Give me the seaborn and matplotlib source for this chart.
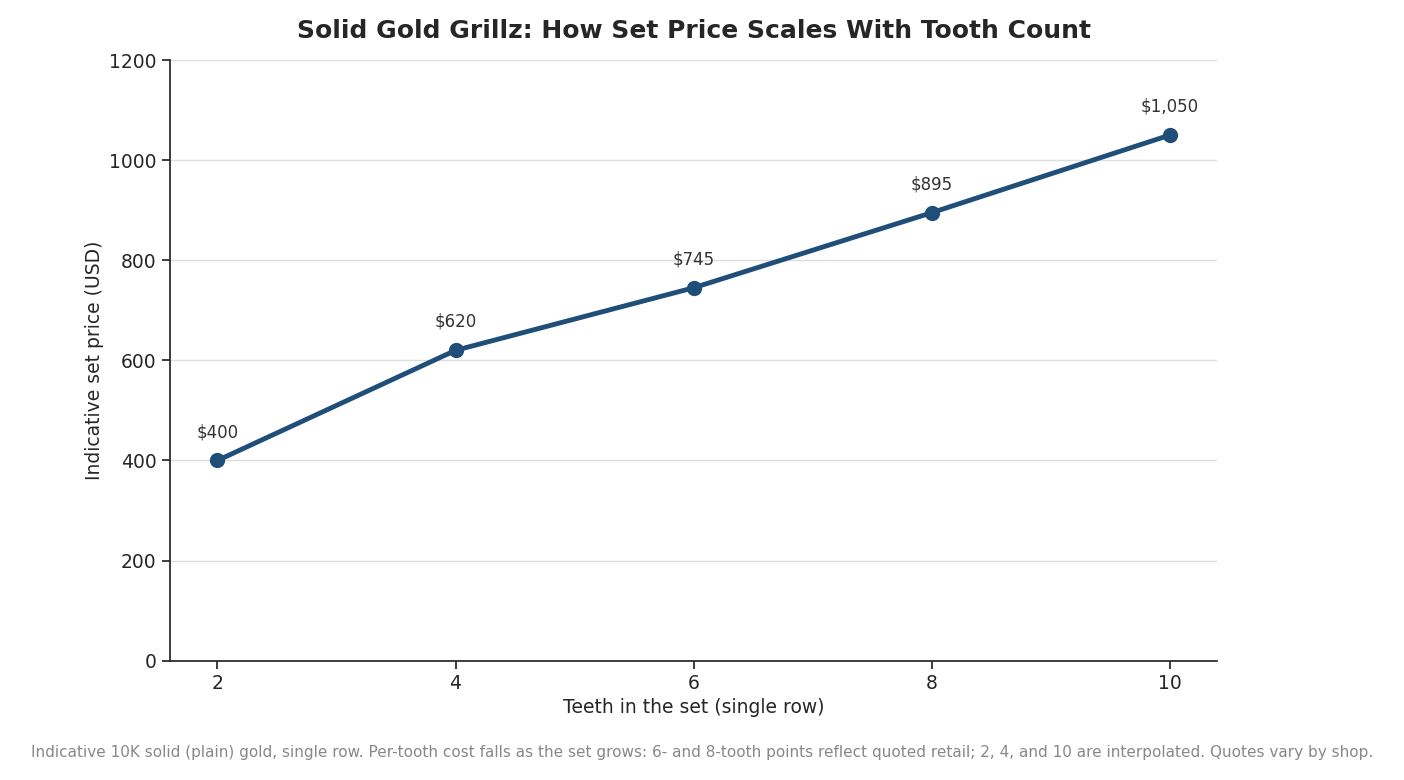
import pandas as pd
import seaborn as sns
import matplotlib.pyplot as plt

# datos
teeth = [2, 4, 6, 8, 10]
price = [400, 620, 745, 895, 1050]
labels = ["$400", "$620", "$745", "$895", "$1,050"]

df = pd.DataFrame({"teeth": teeth, "price": price})

sns.set_theme(style="ticks")
plt.rcParams["font.family"] = ["DejaVu Sans"]

fig = plt.figure(figsize=(14.04, 7.8), dpi=100)
ax = fig.add_axes([0.121, 0.153, 0.746, 0.770])

sns.lineplot(data=df, x="teeth", y="price", ax=ax, color="#1f4e79",
             linewidth=3.5, marker="o", markersize=11, markeredgewidth=0)

for x, y, t in zip(teeth, price, labels):
    ax.annotate(t, (x, y), xytext=(0, 14), textcoords="offset points",
                ha="center", va="bottom", fontsize=12, color="#333333")

ax.set_ylim(0, 1200)
ax.set_xlim(1.6, 10.4)
ax.set_xticks(teeth)
ax.set_yticks(range(0, 1201, 200))
ax.yaxis.grid(True, color="#dddddd", linewidth=1)
ax.set_axisbelow(True)
sns.despine(ax=ax)
ax.tick_params(labelsize=13.5)
ax.set_xlabel("Teeth in the set (single row)", fontsize=13.5)
ax.set_ylabel("Indicative set price (USD)", fontsize=13.5)
ax.set_title("Solid Gold Grillz: How Set Price Scales With Tooth Count",
             fontsize=18, fontweight="bold", pad=16)

fig.text(0.5, 0.03, "Indicative 10K solid (plain) gold, single row. Per-tooth cost falls as the set grows: "
         "6- and 8-tooth points reflect quoted retail; 2, 4, and 10 are interpolated. Quotes vary by shop.",
         ha="center", fontsize=11, color="#888888")

fig.savefig("out.png", dpi=100)
